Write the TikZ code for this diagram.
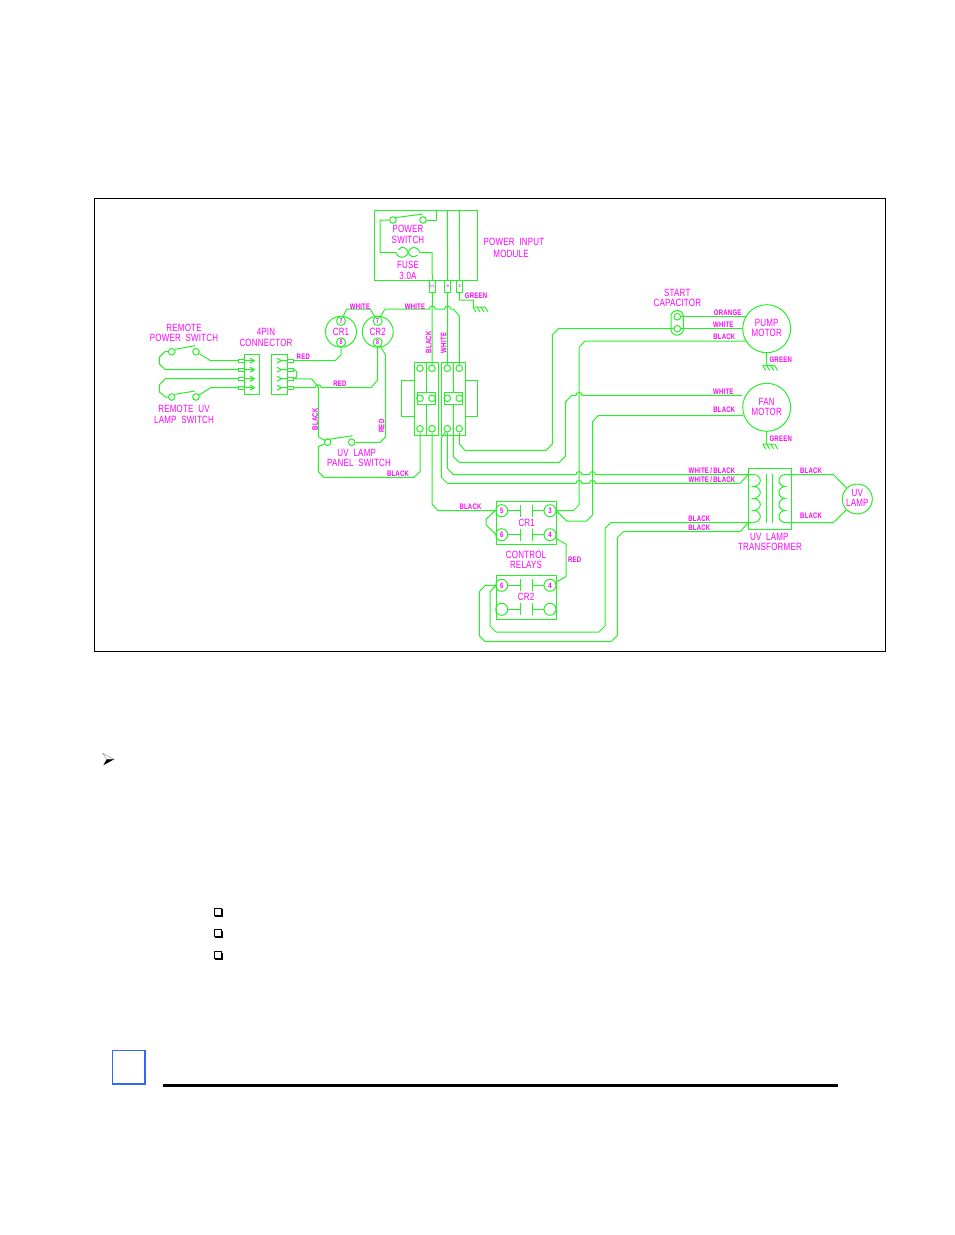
\documentclass[tikz,border=0pt]{standalone}
\usepackage{fontspec}
\newfontfamily\cadfont[FakeStretch=0.76,LetterSpace=2]{Liberation Sans}
\newfontfamily\cadsmall[FakeStretch=0.75,LetterSpace=3]{Liberation Sans}
\definecolor{wire}{RGB}{40,240,40}
\definecolor{txt}{RGB}{255,0,255}
\definecolor{tagblue}{RGB}{51,102,255}
\tikzset{
  biglab/.style={text=txt,inner sep=0pt,font=\cadfont\fontsize{10.5}{11}\selectfont},
  smalllab/.style={text=txt,inner sep=0pt,font=\cadsmall\bfseries\fontsize{8}{8}\selectfont},
  pinlab/.style={text=txt,inner sep=0pt,font=\cadsmall\bfseries\fontsize{4}{4}\selectfont},
  term/.style={circle,draw=wire,inner sep=0pt,minimum size=6.6pt},
  relayterm/.style={circle,draw=wire,text=txt,inner sep=0pt,minimum size=12pt,font=\cadsmall\bfseries\fontsize{8}{8}\selectfont},
  coilterm/.style={circle,draw=wire,text=txt,inner sep=0pt,minimum size=9pt,font=\cadsmall\bfseries\fontsize{7}{7}\selectfont},
  device/.style={circle,draw=wire,inner sep=0pt},
  pinbox/.style={rectangle,draw=wire,inner sep=0pt,minimum width=6pt,minimum height=3.4pt},
}
\newcommand{\wirehop}[2]{-- (#1-3,#2) arc[start angle=180,end angle=0,radius=3pt]}
\newcommand{\wirehopl}[2]{-- (#1+3,#2) arc[start angle=0,end angle=180,radius=3pt]}
\newcommand{\earth}[1]{\draw (#1) ++(-4,0) -- ++(12,0) (#1) ++(-4,0) -- ++(3,5) (#1) ++(0,0) -- ++(3,5) (#1) ++(4,0) -- ++(3,5) (#1) ++(8,0) -- ++(3,5);}
\begin{document}
\begin{tikzpicture}[x=1pt,y=-1pt,line width=1pt]
  \useasboundingbox (0,0) rectangle (954,1235);
  \draw[black,line width=0.8pt] (94.5,198.5) rectangle (885.5,651.5);
  \draw[wire]
    (420,368.3) node[term] (a1){}
    (432,368.3) node[term] (a2){}
    (447.3,368.3) node[term] (a3){}
    (459.3,368.3) node[term] (a4){}
    (420,398.3) node[term] (b1){}
    (432,398.3) node[term] (b2){}
    (447.3,398.3) node[term] (b3){}
    (459.3,398.3) node[term] (b4){}
    (420,428.7) node[term] (c1){}
    (432,428.7) node[term] (c2){}
    (447.3,428.7) node[term] (c3){}
    (459.3,428.7) node[term] (c4){}
    (393,220) node[term] (pwrA){}
    (423,220) node[term] (pwrB){}
    (171.7,351.7) node[term] (remA){}
    (196,351.7) node[term] (remB){}
    (171.7,397) node[term] (lampA){}
    (196,397) node[term] (lampB){}
    (327.7,442.3) node[term] (panelA){}
    (351.7,442.3) node[term] (panelB){}
    (677.3,316.7) node[term] (capA){}
    (677.3,328.7) node[term] (capB){}
    (341,331.7) node[device,minimum size=31pt] (cr1){}
    (377.7,331.7) node[device,minimum size=31pt] (cr2){}
    (766.7,328.7) node[device,minimum size=48pt] (pump){}
    (766.7,407.3) node[device,minimum size=48pt] (fan){}
    (857.3,499) node[device,minimum size=30pt] (lamp){}
    (341,321) node[coilterm] (cr1a){7}
    (341,342.3) node[coilterm] (cr1b){8}
    (377.7,321) node[coilterm] (cr2a){7}
    (377.7,342.3) node[coilterm] (cr2b){8}
    (501.7,510.7) node[relayterm] (k5){5}
    (550,510.7) node[relayterm] (k3){3}
    (501.7,534.7) node[relayterm] (k6){6}
    (550,534.7) node[relayterm] (k4){4}
    (501.7,585.3) node[relayterm] (m6){6}
    (550,585.3) node[relayterm] (m4){4}
    (501.7,609.3) node[relayterm] (m1){}
    (550,609.3) node[relayterm] (m2){}
    (432.3,286.3) node[pinbox,minimum width=6pt,minimum height=12pt] (l1){}
    (447.7,286.3) node[pinbox,minimum width=6pt,minimum height=12pt] (nn){}
    (459.7,286.3) node[pinbox,minimum width=6pt,minimum height=12pt] (gg){};
  \foreach \n/\y in {1/360.7,2/369.7,3/378.7,4/387.7} {
    \node[pinbox] (pl\n) at (241.3,\y) {};
    \node[pinbox] (pr\n) at (290.5,\y) {};
    \draw[wire] (pl\n.east) -- (254.5,\y) (250,\y-2.5) -- (254.5,\y) -- (250,\y+2.5);
    \draw[wire] (pr\n.west) -- (281.5,\y) -- (277,\y-2.5) (281.5,\y) -- (277,\y+2.5);
  }
  \begin{scope}[wire]
    \draw (374.5,210) rectangle (477,280.5);
    \draw (436,210) -- (436,220) -- (pwrB);
    \draw (447.3,210) -- (nn.north);
    \draw (459.3,210) -- (gg.north);
    \draw (pwrA) -- (380,220) -- (380,252.7) -- (396,252.7)
      .. controls (398.5,259) and (405,259) .. (408.3,252.7)
      .. controls (410.5,245.5) and (417,245.5) .. (420,252.7) -- (432,252.7) -- (l1.north);
    \draw (398.5,250) .. controls (402,245) and (406,247) .. (408.3,252.7)
      .. controls (410,257) and (414,258) .. (417.5,255);
    \draw (395,217.7) -- (423,214);
    \draw (l1.south) -- (a2);
    \draw (nn.south) -- (a3);
    \draw (gg.south) -- (459.3,300) -- (473.3,300) -- (473.3,307);
    \earth{477,307}
    \draw (414,362.3) rectangle (438.3,435);
    \draw (441.3,362.3) rectangle (465.3,435);
    \draw (426,362.3) -- (426,392.3) (426,404.3) -- (426,435);
    \draw (453.3,362.3) -- (453.3,392.3) (453.3,404.3) -- (453.3,456.7) -- (459.3,462.3) -- (559.3,462.3) -- (565.7,456) -- (565.7,401.7) -- (571.7,395.3) \wirehop{579}{395.3} -- (fan.west |- 0,395.3);
    \draw (417.3,392.3) rectangle (435.3,404.3);
    \draw (444.3,392.3) rectangle (462.3,404.3);
    \draw (414,380) -- (401.7,380) -- (401.7,416.7) -- (414,416.7);
    \draw (465.3,380) -- (477.7,380) -- (477.7,416.7) -- (465.3,416.7);
    \draw (cr1a) -- (346.7,309) -- (370,309) -- (cr2a);
    \draw (cr2a) -- (385,309) \wirehop{432.3}{309} \wirehop{447.7}{309} -- (453.3,309) -- (459.3,316) -- (a4);
    \draw (cr1b) -- (341,355) -- (335,360.7) -- (pr1.east);
    \draw (cr2b) -- (377.7,380) -- (371,387.7) \wirehopl{318.3}{387.7} -- (pr4.east);
    \draw (cr2b) -- (385.7,355) -- (385.7,436.7) -- (380,442.3) -- (panelB);
    \draw (324.3,440) -- (352.3,435.7);
    \draw (panelA) -- (318.3,436.7) -- (318.3,387) -- (311.7,379) -- (pr3.east);
    \draw (panelA) -- (318.3,446.7) -- (318.3,471.7) -- (324,477.3) -- (414,477.3) -- (420,471.7) -- (c1);
    \draw (pr2.east) .. controls (298,369.7) and (298,378.7) .. (pr3.east);
    \draw (244.3,354.3) rectangle (259.3,394.3);
    \draw (271.3,354.3) rectangle (287.7,394.3);
    \draw (remB) -- (210.7,360.7) -- (pl1.west);
    \draw (remA) -- (165,351.7) -- (159.3,357.3) -- (159.3,364) -- (165.3,369.7) -- (pl2.west);
    \draw (175,349.3) -- (195,345.7);
    \draw (lampA) -- (165.3,397) -- (159.3,391.7) -- (159.3,385) -- (165.3,378.7) -- (pl3.west);
    \draw (lampB) -- (210.7,387.7) -- (pl4.west);
    \draw (175,394.3) -- (195,391);
    \draw (c4) -- (459.3,444) -- (465,450.3) -- (546,450.3) -- (552.3,444) -- (552.3,335) -- (558.3,328.7) -- (capB);
    \draw (capB) -- (pump.west |- 0,328.7);
    \draw (capA) -- (746.7,316.7);
    \draw[rounded corners=5pt] (671,310.7) rectangle (683.3,335);
    \draw (k3) -- (573.3,510.7) -- (579,505) -- (579,347.3) -- (585,341) -- (745.7,341);
    \draw (k3) -- (556.7,511) -- (566.7,521) -- (586.7,521) -- (592.5,515) -- (592.5,421.7) -- (598.3,415.5) -- (743.2,415.5);
    \draw (c3) -- (447.3,468.3) -- (453.3,474.5) \wirehop{579}{474.5} \wirehop{592.5}{474.5} -- (753.3,474.5);
    \draw (c3) -- (441.3,438.3) -- (441.3,477.3) -- (447.3,483.3) \wirehop{579}{483.3} \wirehop{592.5}{483.3} -- (740,483.3) -- (748.3,474.5);
    \draw (c2) -- (432,504) -- (438,510.7) -- (k5);
    \draw (k5) -- (495,510.7) -- (486,519.3) -- (486,525) -- (495,533.3) -- (k6);
    \draw (496,501.7) rectangle (556.7,544.3);
    \draw (496,575.7) rectangle (556.7,619);
    \foreach \row/\ra/\rb/\yy in {k5/k5/k3/510.7,k6/k6/k4/534.7,m6/m6/m4/585.3,m1/m1/m2/609.3} {
      \draw (\ra) -- (520,\yy) (520,\yy-6) -- (520,\yy+6);
      \draw (\rb) -- (532.3,\yy) (532.3,\yy-6) -- (532.3,\yy+6);
    }
    \draw (k4) -- (566,544.3) -- (566,576.7) -- (m4);
    \draw (m6) -- (496,585.3) -- (490,591.7) -- (490,626) -- (496,632) -- (599,632) -- (605,626) -- (605,528.3) -- (611,522.7) -- (753.3,522.7);
    \draw (m6) -- (485.3,585.3) -- (479.3,591.7) -- (479.3,635.7) -- (485.3,641.7) -- (611,641.7) -- (617.3,635.7) -- (617.3,537.7) -- (623.3,531.7) -- (740,531.7) -- (748.3,522.7);
    \draw (748.3,468.3) rectangle (791.3,529);
    \draw (766.7,474.3) -- (766.7,522.7) (772.7,474.3) -- (772.7,522.7);
    \draw (753.3,474.5) arc[start angle=90,end angle=-90,x radius=7pt,y radius=6pt]
      arc[start angle=90,end angle=-90,x radius=7pt,y radius=6pt]
      arc[start angle=90,end angle=-90,x radius=7pt,y radius=6pt]
      arc[start angle=90,end angle=-90,x radius=7pt,y radius=6pt];
    \draw (785,474.5) arc[start angle=90,end angle=270,x radius=6pt,y radius=6pt]
      arc[start angle=90,end angle=270,x radius=6pt,y radius=6pt]
      arc[start angle=90,end angle=270,x radius=6pt,y radius=6pt]
      arc[start angle=90,end angle=270,x radius=6pt,y radius=6pt];
    \draw (785,474.5) -- (833.3,474.5) -- (lamp);
    \draw (785,522.7) -- (833.3,522.7) -- (lamp);
    \draw (pump.south) -- (766.7,365.5);
    \earth{766.7,365.5}
    \draw (fan.south) -- (766.7,444);
    \earth{766.7,444}
  \end{scope}
  \draw
    (408,229) node[biglab] (tpwr1){POWER}
    (408,239.5) node[biglab] (tpwr2){SWITCH}
    (408,265) node[biglab] (tfuse1){FUSE}
    (408,275.5) node[biglab] (tfuse2){3.0A}
    (514,242) node[biglab] (tmod1){POWER\ \ INPUT}
    (511,253.5) node[biglab] (tmod2){MODULE}
    (184,327.5) node[biglab] (trem1){REMOTE}
    (184,338) node[biglab] (trem2){POWER\ \ SWITCH}
    (184,409) node[biglab] (tlamp1){REMOTE\ \ UV}
    (184,420) node[biglab] (tlamp2){LAMP\ \ SWITCH}
    (266,332) node[biglab] (tpin1){4PIN}
    (266,342.5) node[biglab] (tpin2){CONNECTOR}
    (341,331.7) node[biglab] (tcr1){CR1}
    (377.7,331.7) node[biglab] (tcr2){CR2}
    (356.7,452.7) node[biglab] (tpan1){UV\ \ LAMP}
    (359,463.3) node[biglab] (tpan2){PANEL\ \ SWITCH}
    (526.7,523.3) node[biglab] (trel1){CR1}
    (526,597.3) node[biglab] (trel2){CR2}
    (526,555) node[biglab] (tctl1){CONTROL}
    (526,565.3) node[biglab] (tctl2){RELAYS}
    (677.3,292.7) node[biglab] (tcap1){START}
    (677.3,303) node[biglab] (tcap2){CAPACITOR}
    (766.7,322.7) node[biglab] (tpump1){PUMP}
    (766.7,333.3) node[biglab] (tpump2){MOTOR}
    (766.7,401.7) node[biglab] (tfan1){FAN}
    (766.7,412) node[biglab] (tfan2){MOTOR}
    (769.3,536.7) node[biglab] (ttr1){UV\ \ LAMP}
    (770,547.3) node[biglab] (ttr2){TRANSFORMER}
    (857.3,492.7) node[biglab] (tuv1){UV}
    (857.3,503.3) node[biglab] (tuv2){LAMP}
    (476,296) node[smalllab] (wgreen){GREEN}
    (415,306.7) node[smalllab] (wwhite1){WHITE}
    (360,306.7) node[smalllab] (wwhite2){WHITE}
    (428.5,342.3) node[smalllab,rotate=90] (wblack1){BLACK}
    (443.5,343) node[smalllab,rotate=90] (wwhite3){WHITE}
    (303.3,356.7) node[smalllab] (wred1){RED}
    (340,384) node[smalllab] (wred2){RED}
    (315,419.3) node[smalllab,rotate=90] (wblack2){BLACK}
    (381.7,426) node[smalllab,rotate=90] (wred3){RED}
    (398,473.5) node[smalllab] (wblack3){BLACK}
    (470.5,506.7) node[smalllab] (wblack4){BLACK}
    (574.7,560) node[smalllab] (wred4){RED}
    (727.7,313) node[smalllab] (worange){ORANGE}
    (723.3,325) node[smalllab] (wwhite4){WHITE}
    (724.3,337) node[smalllab] (wblack5){BLACK}
    (780.7,360) node[smalllab] (wgreen2){GREEN}
    (723.3,391.7) node[smalllab] (wwhite5){WHITE}
    (724.3,410) node[smalllab] (wblack6){BLACK}
    (780.7,439) node[smalllab] (wgreen3){GREEN}
    (712,470.7) node[smalllab] (wwb1){WHITE\,/\,BLACK}
    (712,479.3) node[smalllab] (wwb2){WHITE\,/\,BLACK}
    (699.3,519) node[smalllab] (wblack7){BLACK}
    (699.3,528) node[smalllab] (wblack8){BLACK}
    (811,470.7) node[smalllab] (wblack9){BLACK}
    (811,515.7) node[smalllab] (wblack10){BLACK}
    (432.3,286.3) node[pinlab] (tl1){L1}
    (447.7,286.3) node[pinlab] (tnn){N}
    (459.7,286.3) node[pinlab] (tgg){G};
  \draw[gray,line width=0.4pt,fill=white] (102.7,753.3) -- (114,759.3) -- (106.7,759.3) -- cycle;
  \fill[black] (103.3,765.3) -- (114,759.3) -- (106.7,759.3) -- cycle;
  \foreach \y in {908.3,929.8,951.5} {
    \fill[black] (215.3,\y+1) rectangle (222.9,\y+8.6);
    \draw[black,fill=white,line width=0.7pt] (214.6,\y) rectangle (221.4,\y+6.8);
  }
  \draw[tagblue,line width=1.2pt] (112.7,1050.7) rectangle (145,1084);
  \draw[tagblue,line width=1.6pt] (112.7,1084) -- (145,1084);
  \fill[black] (163.3,1084.3) rectangle (838,1087);
\end{tikzpicture}
\end{document}
